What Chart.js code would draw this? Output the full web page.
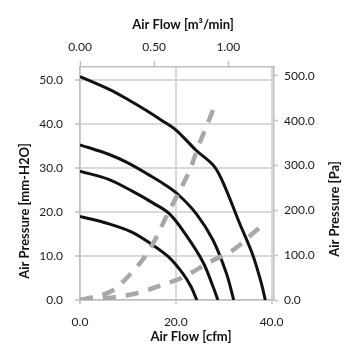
<!DOCTYPE html>
<html><head><meta charset="utf-8">
<script src="https://cdn.jsdelivr.net/npm/chart.js@4"></script>
<style>html,body{margin:0;padding:0;background:#fff}#c{display:block}</style>
</head><body>
<canvas id="c" width="355" height="355"></canvas>
<script>
// ---- data ----
const fan1Cfm = [0, 6.1, 10, 13.7, 17, 20, 24.3, 28.1, 30.4, 33.2, 36.1, 37.9, 38.7];
const fan1MmH2O = [50.8, 47.9, 45.6, 43.2, 40.9, 38.7, 34.0, 30.3, 25.4, 17.8, 10.2, 3.7, 0];
const fan2Cfm = [0, 6.1, 10, 14.5, 17.5, 20.5, 24.3, 27.8, 30.6, 32.1];
const fan2MmH2O = [35.3, 33.1, 31.2, 28.4, 26.4, 24.0, 19.6, 13.6, 6.0, 0];
const fan3Cfm = [0, 6.1, 11, 15.2, 18.7, 22.2, 25.7, 27.8, 28.8];
const fan3MmH2O = [29.3, 27.4, 24.7, 22.1, 19.6, 14.7, 8.6, 3.0, 0];
const fan4Cfm = [0, 5.8, 10.7, 14.8, 18.5, 21.5, 23.2, 24.4];
const fan4MmH2O = [19.0, 17.4, 15.5, 12.8, 9.8, 6.0, 3.0, 0];
const impedanceHighCfm = [0, 6.3, 10.7, 14.5, 18.3, 22.7, 24.8, 27.2, 27.8];
const impedanceHighMmH2O = [0, 1.9, 6.1, 11.4, 19.6, 29.0, 35.2, 41.6, 43.3];
const impedanceLowCfm = [0, 6.8, 12.4, 17.3, 21.4, 27.0, 31.9, 36.8, 37.9];
const impedanceLowMmH2O = [0, 0.6, 1.7, 3.5, 5.1, 8.6, 11.3, 15.8, 16.7];

const bottomTicks = [0, 20, 40];
const topTicks = [0, 0.5, 1.0];
const leftTicks = [0, 10, 20, 30, 40, 50];
const rightTicks = [0, 100, 200, 300, 400, 500];

const titleBottom = 'Air Flow [cfm]';
const titleTop = 'Air Flow [m³/min]';
const titleLeft = 'Air Pressure [mm-H2O]';
const titleRight = 'Air Pressure [Pa]';

// ---- build ----
const pts = (xs, ys) => xs.map((x, i) => ({x, y: ys[i]}));
const black = (xs, ys) => ({data: pts(xs, ys), showLine: true, borderColor: '#111', borderWidth: 3,
  pointRadius: 0, tension: 0.35, order: 2, xAxisID: 'x', yAxisID: 'y'});
const dashed = (xs, ys) => ({data: pts(xs, ys), showLine: true, borderColor: '#a8a8a8', borderWidth: 4.5,
  borderDash: [13, 10], pointRadius: 0, tension: 0.35, order: 1, xAxisID: 'x', yAxisID: 'y'});

Chart.defaults.font.family = 'Lato';
Chart.defaults.font.size = 12;
Chart.defaults.color = '#1a1a1a';

const setTicks = arr => s => { s.ticks = arr.map(v => ({value: v})); };
const gridCol = '#d9d9d9', axisCol = '#bfbfbf';

const titles = {
  id: 'axisTitles',
  afterDraw(chart) {
    const ctx = chart.ctx;
    ctx.save();
    ctx.fillStyle = '#111';
    ctx.font = 'bold 13px Lato';
    ctx.textAlign = 'center';
    ctx.textBaseline = 'middle';
    ctx.fillText(titleTop, 183, 25);
    ctx.fillText(titleBottom, 191, 337);
    ctx.save(); ctx.translate(25, 211); ctx.rotate(-Math.PI / 2); ctx.fillText(titleLeft, 0, 0); ctx.restore();
    ctx.save(); ctx.translate(335, 209); ctx.rotate(-Math.PI / 2); ctx.fillText(titleRight, 0, 0); ctx.restore();
    ctx.restore();
  }
};

new Chart(document.getElementById('c'), {
  type: 'scatter',
  data: {datasets: [
    dashed(impedanceHighCfm, impedanceHighMmH2O),
    dashed(impedanceLowCfm, impedanceLowMmH2O),
    black(fan1Cfm, fan1MmH2O),
    black(fan2Cfm, fan2MmH2O),
    black(fan3Cfm, fan3MmH2O),
    black(fan4Cfm, fan4MmH2O)
  ]},
  options: {
    responsive: false, animation: false,
    layout: {padding: 0},
    plugins: {legend: {display: false}, tooltip: {enabled: false}, title: {display: false}},
    scales: {
      x: {type: 'linear', position: 'bottom', min: 0, max: 40.52,
        afterBuildTicks: setTicks(bottomTicks),
        afterFit: s => { s.height = 55; },
        ticks: {callback: v => v.toFixed(1), padding: 11, maxRotation: 0},
        grid: {color: gridCol, lineWidth: 2, tickLength: 4, tickColor: axisCol, tickWidth: 1.5},
        border: {color: axisCol, width: 1.5}},
      x2: {type: 'linear', position: 'top', min: 0, max: 1.307,
        afterBuildTicks: setTicks(topTicks),
        afterFit: s => { s.height = 67; },
        ticks: {callback: v => v.toFixed(2), padding: 7, maxRotation: 0},
        grid: {drawOnChartArea: false, tickLength: 6, tickColor: axisCol, tickWidth: 1.5},
        border: {color: axisCol, width: 1.5}},
      y: {type: 'linear', position: 'left', min: 0, max: 53,
        afterBuildTicks: setTicks(leftTicks),
        afterFit: s => { s.width = 80; },
        ticks: {callback: v => v.toFixed(1), padding: 12},
        grid: {color: gridCol, lineWidth: 2, tickLength: 5, tickColor: axisCol, tickWidth: 1.5},
        border: {color: axisCol, width: 1.5}},
      y2: {type: 'linear', position: 'right', min: 0, max: 519.75,
        afterBuildTicks: setTicks(rightTicks),
        afterFit: s => { s.width = 81; },
        ticks: {callback: v => v.toFixed(1), padding: 6},
        grid: {drawOnChartArea: false, tickLength: 4, tickColor: axisCol, tickWidth: 1.5},
        border: {color: axisCol, width: 1.5}}
    }
  },
  plugins: [titles]
});
</script>
</body></html>
